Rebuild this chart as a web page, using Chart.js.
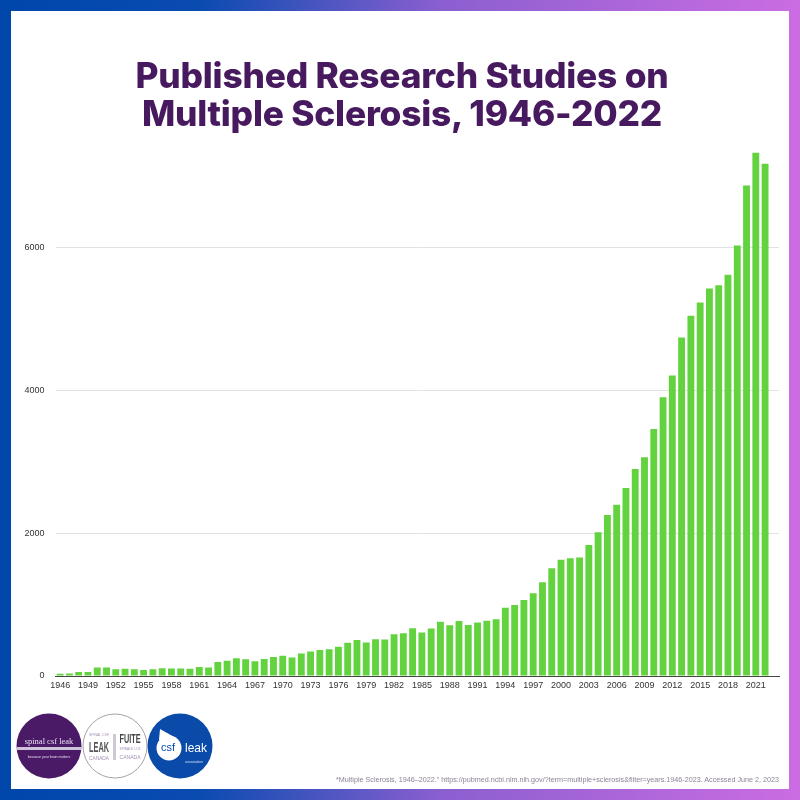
<!DOCTYPE html>
<html>
<head>
<meta charset="utf-8">
<title>Published Research Studies on Multiple Sclerosis</title>
<script src="https://cdn.jsdelivr.net/npm/chart.js@4"></script>
<style>
  html, body { margin: 0; padding: 0; }
  body { width: 800px; height: 800px; overflow: hidden; position: relative; background: linear-gradient(90deg, #0047ab 0%, #0a4bb0 25%, #8a5fd0 55%, #cc6ce2 100%); }
  #panel { position: absolute; left: 11px; top: 11px; width: 778px; height: 778px; background: #fff; }
  canvas { position: absolute; left: 0; top: 0; }
  h1 { position: absolute; left: 0; top: 57px; width: 804px; margin: 0; text-align: center; color: #47195f; font: 800 35.3px/38px Inter, sans-serif; letter-spacing: -0.2px; }
  #note { position: absolute; right: 21px; top: 775px; color: #8d8298; font: 7.2px/10px "Liberation Sans", sans-serif; white-space: nowrap; }
  svg { position: absolute; left: 0; top: 700px; }
</style>
</head>
<body>
<div id="panel"></div>
<canvas id="dataChart" width="800" height="800"></canvas>
<h1>Published Research Studies on<br>Multiple Sclerosis, 1946-2022</h1>
<svg width="230" height="90" font-family="Liberation Sans, sans-serif" text-anchor="middle">
  <circle cx="49" cy="46" r="32.5" fill="#4b1a66"/>
  <text x="49" y="44" fill="#e8dff0" font-size="8.5" font-family="Liberation Serif, serif">spinal csf leak</text>
  <rect x="17" y="47" width="64" height="3" fill="#cfc3da"/>
  <text x="49" y="58" fill="#e5dcec" font-size="3.5">because your brain matters</text>
  <circle cx="115" cy="46" r="32" fill="#fff" stroke="#8c8c8c" stroke-width="0.8"/>
  <text x="99" y="36" fill="#a68fb0" font-size="4" textLength="20" lengthAdjust="spacingAndGlyphs">SPINAL CSF</text>
  <text x="99" y="52" fill="#555" font-size="14" font-weight="bold" textLength="20" lengthAdjust="spacingAndGlyphs">LEAK</text>
  <text x="99" y="60" fill="#a68fb0" font-size="6" textLength="20" lengthAdjust="spacingAndGlyphs">CANADA</text>
  <rect x="113" y="34" width="3" height="26" fill="#cfc8d4"/>
  <text x="130" y="43" fill="#444" font-size="13" font-weight="bold" textLength="21" lengthAdjust="spacingAndGlyphs">FUITE</text>
  <text x="130" y="50" fill="#a68fb0" font-size="4" textLength="21" lengthAdjust="spacingAndGlyphs">SPINALE LCS</text>
  <text x="130" y="59" fill="#a68fb0" font-size="6" textLength="21" lengthAdjust="spacingAndGlyphs">CANADA</text>
  <circle cx="180" cy="46" r="32.5" fill="#0a4aa8"/>
  <circle cx="169" cy="48" r="12.5" fill="#fff"/>
  <path d="M159 40 L160 29 L176 38 Z" fill="#fff"/>
  <text x="168" y="51" fill="#0a4aa8" font-size="11">csf</text>
  <text x="196" y="52" fill="#fff" font-size="12">leak</text>
  <text x="194" y="63" fill="#cfe0f5" font-size="3.5">association</text>
</svg>
<div id="note">*Multiple Sclerosis, 1946–2022." https://pubmed.ncbi.nlm.nih.gov/?term=multiple+sclerosis&amp;filter=years.1946-2023. Accessed June 2, 2023</div>

<script>
// studies per year
const years = [
  '1946','1947','1948','1949','1950','1951','1952','1953','1954','1955',
  '1956','1957','1958','1959','1960','1961','1962','1963','1964','1965',
  '1966','1967','1968','1969','1970','1971','1972','1973','1974','1975',
  '1976','1977','1978','1979','1980','1981','1982','1983','1984','1985',
  '1986','1987','1988','1989','1990','1991','1992','1993','1994','1995',
  '1996','1997','1998','1999','2000','2001','2002','2003','2004','2005',
  '2006','2007','2008','2009','2010','2011','2012','2013','2014','2015',
  '2016','2017','2018','2019','2020','2021','2022','2023'
];
const studies = [
  30, 35, 55, 55, 120, 120, 95, 100, 95, 85,
  95, 110, 105, 105, 100, 125, 120, 195, 215, 250,
  235, 205, 240, 265, 285, 260, 315, 345, 365, 375,
  410, 465, 505, 470, 515, 510, 585, 600, 670, 610,
  665, 760, 710, 770, 715, 750, 775, 795, 955, 995,
  1065, 1160, 1315, 1510, 1630, 1650, 1660, 1835, 2015, 2255,
  2400, 2635, 2900, 3065, 3460, 3905, 4210, 4745, 5050, 5235,
  5430, 5475, 5625, 6035, 6875, 7335, 7180, null
];
const yTicks = [0, 2000, 4000, 6000];

const ctx = document.getElementById('dataChart').getContext('2d');
let chart = new Chart(ctx, {
  type: 'bar',
  data: {
    labels: years,
    datasets: [{
      label: 'Published studies',
      data: studies,
      backgroundColor: '#62d33f',
      categoryPercentage: 1,
      barPercentage: 0.74
    }]
  },
  options: {
    responsive: false,
    animation: false,
    layout: { padding: { left: 10, right: 21, top: 148, bottom: 0 } },
    plugins: { legend: { display: false }, tooltip: { enabled: false } },
    scales: {
      x: {
        afterFit: (s) => { s.height = 124; },
        grid: { display: false, drawTicks: false },
        border: { color: '#444', width: 1 },
        ticks: {
          autoSkip: false,
          maxRotation: 0,
          padding: 4,
          color: '#333',
          font: { family: 'Liberation Sans', size: 9 },
          callback: function (v, i) { return i % 3 === 0 ? years[i] : ''; }
        }
      },
      y: {
        min: 0,
        max: 7400,
        afterFit: (s) => { s.width = 45.5; },
        afterBuildTicks: (s) => { s.ticks = yTicks.map((v) => ({ value: v })); },
        grid: { color: '#e2e2e2', drawTicks: false },
        border: { display: false },
        ticks: {
          padding: 11,
          color: '#333',
          font: { family: 'Liberation Sans', size: 9 },
          callback: (v) => String(v)
        }
      }
    }
  }
});
</script>
</body>
</html>
